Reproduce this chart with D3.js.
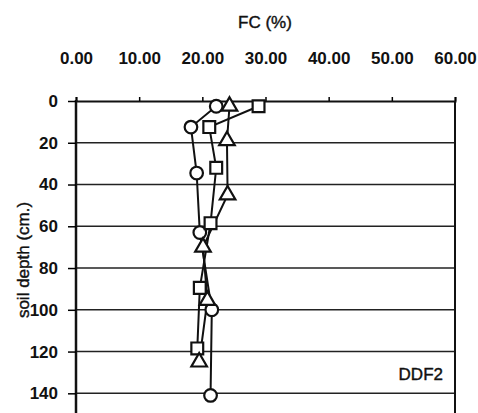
<!DOCTYPE html>
<html>
<head>
<meta charset="utf-8">
<script src="https://cdn.jsdelivr.net/npm/d3@7"></script>
<style>
  body { margin: 0; background: #fff; }
  text { font-family: "Liberation Sans", Arial, sans-serif; fill: #111; }
</style>
</head>
<body>
<svg id="chart" width="478" height="413"></svg>
<script>
// data: FC (%) against soil depth (cm)
const xTicks = [0, 10, 20, 30, 40, 50, 60];
const yTicks = [0, 20, 40, 60, 80, 100, 120, 140];

const circleDepth = [2.5, 12.5, 34.5, 63, 100, 141];
const circleFC = [22.2, 18.2, 19.1, 19.6, 21.5, 21.3];

const squareDepth = [2.5, 12.5, 32, 58.5, 89.5, 118.5];
const squareFC = [28.9, 21.1, 22.2, 21.3, 19.6, 19.2];

const triDepth = [2.5, 19, 45, 70, 95.5, 125];
const triFC = [24.3, 23.9, 24.0, 20.1, 20.8, 19.5];

const svg = d3.select("#chart");
const margin = { top: 101, left: 76, right: 23 };
const width = 478;
const font = "Liberation Sans, Arial, sans-serif";

// scales
const x = d3.scaleLinear().domain([0, 60]).range([margin.left, width - margin.right]);
const y = d3.scaleLinear().domain([0, 150]).range([margin.top, margin.top + 150 * 2.088]);

// horizontal gridlines
svg.append("g")
  .selectAll("line")
  .data(yTicks.slice(1))
  .join("line")
  .attr("x1", x(0)).attr("x2", x(60))
  .attr("y1", d => y(d)).attr("y2", d => y(d))
  .attr("stroke", "#222").attr("stroke-width", 1.4);

// right border
svg.append("line")
  .attr("x1", x(60)).attr("x2", x(60))
  .attr("y1", y(0)).attr("y2", 413)
  .attr("stroke", "#111").attr("stroke-width", 2);

// top axis (labels sit well above the line)
const xAxis = svg.append("g")
  .attr("transform", `translate(0,${y(0)})`)
  .call(d3.axisTop(x).tickValues(xTicks).tickFormat(d3.format(".2f")).tickSize(4).tickPadding(33));
xAxis.select(".domain").attr("stroke-width", 2).attr("stroke", "#111");
xAxis.selectAll(".tick line").attr("stroke-width", 1.5);
xAxis.selectAll("text").attr("font-size", 17).attr("font-weight", "bold").style("font-family", font);

// left axis
const yAxis = svg.append("g")
  .attr("transform", `translate(${x(0)},0)`)
  .call(d3.axisLeft(y).tickValues(yTicks).tickSize(8).tickSizeOuter(0).tickPadding(10));
yAxis.select(".domain").attr("stroke-width", 2.5).attr("stroke", "#111")
  .attr("d", `M0,${y(0) - 1}V413`);
yAxis.selectAll(".tick line").attr("stroke-width", 1.5);
yAxis.selectAll("text").attr("font-size", 17).attr("font-weight", "bold")
  .style("font-family", font);

// titles
svg.append("text")
  .attr("x", 265).attr("y", 28)
  .attr("text-anchor", "middle").attr("font-size", 17)
  .attr("stroke", "#111").attr("stroke-width", 0.4)
  .text("FC (%)");

svg.append("text")
  .attr("transform", "translate(29,260) rotate(-90)")
  .attr("text-anchor", "middle").attr("font-size", 17)
  .attr("stroke", "#111").attr("stroke-width", 0.4)
  .text("soil depth (cm.)");

svg.append("text")
  .attr("x", 443).attr("y", 380)
  .attr("text-anchor", "end").attr("font-size", 17)
  .attr("stroke", "#111").attr("stroke-width", 0.4)
  .text("DDF2");

// series lines and markers
const series = [
  { fc: circleFC, depth: circleDepth, shape: d3.symbolCircle, size: 125 },
  { fc: squareFC, depth: squareDepth, shape: d3.symbolSquare, size: 140 },
  { fc: triFC, depth: triDepth, shape: d3.symbolTriangle, size: 105 }
];

const line = d3.line().x(d => x(d[0])).y(d => y(d[1]));

series.forEach(s => {
  const pts = s.fc.map((v, i) => [v, s.depth[i]]);
  svg.append("path")
    .datum(pts)
    .attr("d", line)
    .attr("fill", "none")
    .attr("stroke", "#111")
    .attr("stroke-width", 2);
});

series.forEach(s => {
  const pts = s.fc.map((v, i) => [v, s.depth[i]]);
  svg.append("g")
    .selectAll("path")
    .data(pts)
    .join("path")
    .attr("transform", d => `translate(${x(d[0])},${y(d[1])})`)
    .attr("d", d3.symbol().type(s.shape).size(s.size))
    .attr("fill", "#fff")
    .attr("stroke", "#111")
    .attr("stroke-width", 2.2);
});
</script>
</body>
</html>
